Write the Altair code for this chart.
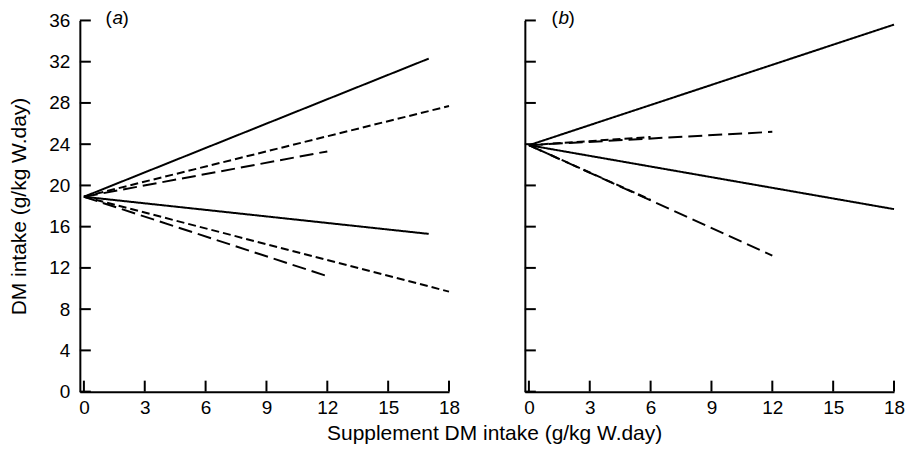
import altair as alt
import pandas as pd

FONT = "Liberation Sans"

x_ticks = [0, 3, 6, 9, 12, 15, 18]
y_ticks = [0, 4, 8, 12, 16, 20, 24, 28, 32, 36]

# Panel (a)
a_series = ["a1", "a2", "a3", "a4", "a5", "a6"]
a_style = ["solid", "short", "long", "solid", "short", "long"]
a_y0 = 18.9
a_x_end = [17, 18, 12, 17, 18, 12]
a_y_end = [32.3, 27.7, 23.3, 15.3, 9.7, 11.2]

# Panel (b)
b_series = ["b1", "b2", "b3", "b4", "b5", "b6"]
b_style = ["solid", "long", "short", "solid", "long", "short"]
b_y0 = 23.9
b_x_end = [18, 12, 6, 18, 12, 6]
b_y_end = [35.6, 25.2, 24.7, 17.7, 13.2, 18.6]

panel_letters = ["a", "b"]

W, H = 370, 372
TICK = 11
LABEL_SIZE = 19
TITLE_SIZE = 21


def lines_df(series, styles, y0, xe, ye):
    rows = []
    for s, st, x1, y1 in zip(series, styles, xe, ye):
        rows.append({"series": s, "style": st, "x": 0, "y": y0})
        rows.append({"series": s, "style": st, "x": x1, "y": y1})
    return pd.DataFrame(rows)


def panel(df, letter, show_y, letter_dx):
    x_enc = alt.X(
        "x:Q",
        scale=alt.Scale(domain=[-0.2, 18], nice=False, zero=False),
        axis=alt.Axis(values=x_ticks, ticks=False, title=None, labelPadding=7,
                      labelFlush=False),
    )
    y_enc = alt.Y(
        "y:Q",
        scale=alt.Scale(domain=[0, 36], nice=False),
        axis=alt.Axis(values=y_ticks, ticks=False,
                      title="DM intake (g/kg W.day)" if show_y else None,
                      labels=show_y, labelPadding=10, titlePadding=19,
                      labelFlush=False),
    )
    lines = alt.Chart(df).mark_line(color="black", strokeWidth=2, strokeCap="butt").encode(
        x=x_enc,
        y=y_enc,
        detail="series:N",
        strokeDash=alt.StrokeDash(
            "style:N",
            scale=alt.Scale(domain=["solid", "short", "long"],
                            range=[[1, 0], [8, 4], [14, 6]]),
            legend=None,
        ),
    )
    yt = alt.Chart(pd.DataFrame({"y": y_ticks})).mark_rule(color="black", strokeWidth=2).encode(
        y=y_enc, x=alt.value(0), x2=alt.value(TICK)
    )
    xt = alt.Chart(pd.DataFrame({"x": x_ticks})).mark_rule(color="black", strokeWidth=2).encode(
        x=x_enc, y=alt.value(H), y2=alt.value(H - TICK)
    )
    base = alt.Chart(pd.DataFrame({"t": [letter]}))
    lp = base.mark_text(font=FONT, fontSize=LABEL_SIZE, baseline="middle", align="center").encode(
        text=alt.value("("), x=alt.value(letter_dx), y=alt.value(-2))
    li = base.mark_text(font=FONT, fontSize=LABEL_SIZE, baseline="middle", align="center",
                        fontStyle="italic").encode(
        text="t:N", x=alt.value(letter_dx + 9), y=alt.value(-2))
    rp = base.mark_text(font=FONT, fontSize=LABEL_SIZE, baseline="middle", align="center").encode(
        text=alt.value(")"), x=alt.value(letter_dx + 17), y=alt.value(-2))
    return alt.layer(lines, yt, xt, lp, li, rp).properties(width=W, height=H)


df_a = lines_df(a_series, a_style, a_y0, a_x_end, a_y_end)
df_b = lines_df(b_series, b_style, b_y0, b_x_end, b_y_end)

chart = alt.hconcat(
    panel(df_a, panel_letters[0], True, 29),
    panel(df_b, panel_letters[1], False, 30),
    spacing=63,
).properties(
    title=alt.TitleParams(
        "Supplement DM intake (g/kg W.day)",
        orient="bottom", anchor="middle", font=FONT, fontSize=TITLE_SIZE,
        fontWeight="normal", color="black", dx=38, offset=5,
    ),
    padding={"left": 0, "top": 1, "right": 0, "bottom": 0},
).configure_axis(
    domainColor="black", domainWidth=2, labelFont=FONT, labelFontSize=LABEL_SIZE,
    labelColor="black", titleFont=FONT, titleFontSize=TITLE_SIZE, titleFontWeight="normal",
    titleColor="black", grid=False,
).configure_view(stroke=None)

chart.save("out.html", embed_options={"renderer": "svg", "actions": False})
